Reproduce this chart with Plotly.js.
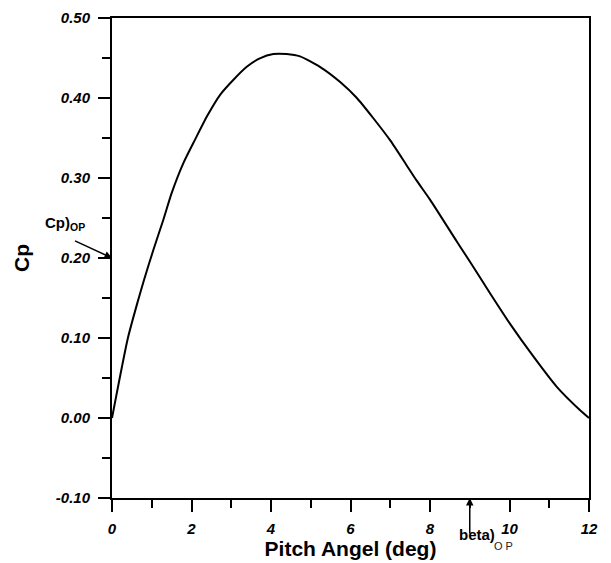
<!DOCTYPE html>
<html>
<head>
<meta charset="utf-8">
<script src="https://cdn.plot.ly/plotly-3.0.1.min.js"></script>
<style>html,body{margin:0;padding:0;background:#fff;}#chart{width:611px;height:563px;}</style>
</head>
<body>
<div id="chart"></div>
<script>
// Data
var pitchAngle = [0, 0.4, 0.65, 0.805, 1.04, 1.29, 1.50, 1.79, 2.09, 2.40, 2.72, 3.05, 3.39, 3.72, 4.06, 4.39, 4.73, 5.23, 5.74, 6.16, 6.57, 7.0, 7.41, 7.66, 8.0, 8.67, 9.01, 9.51, 10.01, 10.6, 11.19, 11.77, 12];
var cpValues = [0, 0.100, 0.146, 0.1725, 0.210, 0.2475, 0.281, 0.318, 0.348, 0.378, 0.404, 0.4225, 0.439, 0.4496, 0.455, 0.455, 0.452, 0.439, 0.420, 0.400, 0.375, 0.347, 0.316, 0.297, 0.273, 0.221, 0.195, 0.156, 0.118, 0.077, 0.039, 0.010, 0];
var xTickVals = [0, 2, 4, 6, 8, 10, 12];
var yTickVals = [-0.1, 0, 0.1, 0.2, 0.3, 0.4, 0.5];
var cpOP = 0.20;
var betaOP = 9;

var FONT = 'Liberation Sans, Arial, sans-serif';

var trace = {
  x: pitchAngle, y: cpValues, type: 'scatter', mode: 'lines',
  line: {color: '#000', width: 2, shape: 'spline', smoothing: 0.6}, hoverinfo: 'skip'
};

var layout = {
  width: 611, height: 563,
  margin: {l: 112, r: 22, t: 18, b: 65},
  paper_bgcolor: '#fff', plot_bgcolor: '#fff',
  showlegend: false,
  font: {family: FONT, color: '#000'},
  xaxis: {
    range: [0, 12], tickvals: xTickVals, ticktext: xTickVals.map(String),
    ticks: 'outside', ticklen: 12, tickwidth: 2, tickcolor: '#000',
    minor: {dtick: 1, ticks: 'outside', ticklen: 8, tickwidth: 2, tickcolor: '#000', showgrid: false},
    showline: true, linewidth: 2, linecolor: '#000', mirror: true,
    showgrid: false, zeroline: false, ticklabelstandoff: 4,
    tickfont: {family: FONT, size: 15, weight: 'bold', style: 'italic', color: '#000'},
    title: {text: 'Pitch Angel (deg)', font: {family: FONT, size: 21, weight: 'bold', color: '#000'}, standoff: 4}
  },
  yaxis: {
    range: [-0.1, 0.5], tickvals: yTickVals, ticktext: yTickVals.map(function(v){return v.toFixed(2);}),
    ticks: 'outside', ticklen: 12, tickwidth: 2, tickcolor: '#000',
    minor: {dtick: 0.05, ticks: 'outside', ticklen: 8, tickwidth: 2, tickcolor: '#000', showgrid: false},
    showline: true, linewidth: 2, linecolor: '#000', mirror: true,
    showgrid: false, zeroline: false, ticklabelstandoff: 5,
    tickfont: {family: FONT, size: 15, weight: 'bold', style: 'italic', color: '#000'},
    title: {text: 'Cp', font: {family: FONT, size: 21, weight: 'bold', color: '#000'}, standoff: 20}
  },
  annotations: [
    {x: 0, y: cpOP, xref: 'x', yref: 'y', text: ' ', font: {size: 2},
     showarrow: true, arrowhead: 2, arrowsize: 1, arrowwidth: 1.5, arrowcolor: '#000',
     ax: -39, ay: -18},
    {x: -0.1447, y: 0.571, xref: 'paper', yref: 'paper', xanchor: 'left', yanchor: 'middle',
     text: '<b>Cp)<sub>OP</sub></b>', showarrow: false,
     font: {family: FONT, size: 15, color: '#000'}},
    {x: betaOP, y: -0.1, xref: 'x', yref: 'y', text: ' ', font: {size: 2},
     showarrow: true, arrowhead: 2, arrowsize: 1, arrowwidth: 1.5, arrowcolor: '#000',
     ax: 0, ay: 38},
    {x: 0.7233, y: -0.075, xref: 'paper', yref: 'paper', xanchor: 'left', yanchor: 'middle',
     text: '<b>beta)</b>', showarrow: false,
     font: {family: FONT, size: 15, color: '#000'}},
    {x: 0.7975, y: -0.1, xref: 'paper', yref: 'paper', xanchor: 'left', yanchor: 'middle',
     text: 'O P', showarrow: false,
     font: {family: FONT, size: 11, color: '#222'}}
  ]
};

Plotly.newPlot('chart', [trace], layout, {staticPlot: true, displayModeBar: false});
</script>
</body>
</html>
